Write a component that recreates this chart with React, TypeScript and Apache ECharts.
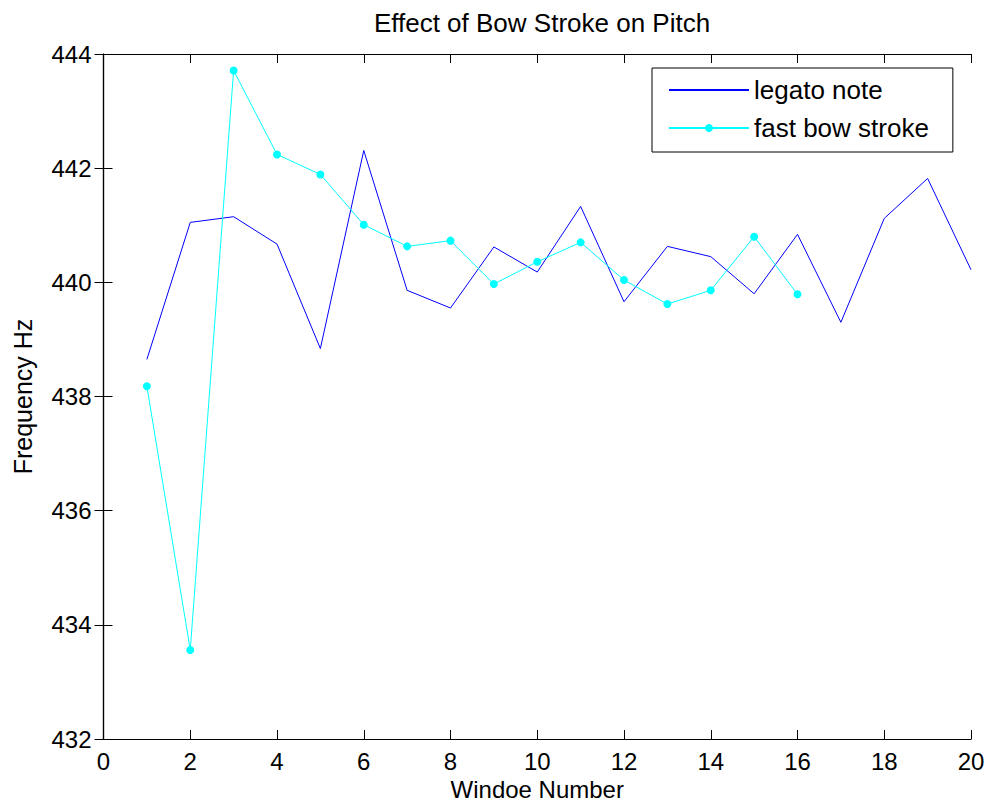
import React, { useEffect, useRef } from "react";
import * as echarts from "echarts";

const windows = [1, 2, 3, 4, 5, 6, 7, 8, 9, 10, 11, 12, 13, 14, 15, 16, 17, 18, 19, 20];
const legatoNote = [438.65, 441.05, 441.15, 440.67, 438.84, 442.31, 439.86, 439.55, 440.62, 440.18, 441.33, 439.66, 440.63, 440.45, 439.8, 440.84, 439.3, 441.12, 441.82, 440.22];
const fastBowStroke = [438.18, 433.56, 443.71, 442.24, 441.89, 441.01, 440.63, 440.73, 439.97, 440.36, 440.7, 440.04, 439.62, 439.86, 440.8, 439.79];

const FONT = "Liberation Sans, Arial, Helvetica, sans-serif";

export default function App() {
  const ref = useRef<HTMLDivElement>(null);
  useEffect(() => {
    document.body.style.margin = "0";
    const chart = echarts.init(ref.current!, null, { renderer: "svg" });
    const tickCommon = {
      show: true,
      inside: true,
      length: 9,
      lineStyle: { color: "#000", width: 1 },
    };
    chart.setOption({
      animation: false,
      backgroundColor: "#fff",
      title: {
        text: "Effect of Bow Stroke on Pitch",
        left: 537,
        top: 5,
        textAlign: "center",
        textStyle: { fontFamily: FONT, fontSize: 26, fontWeight: "normal", color: "#000" },
      },
      legend: {
        orient: "vertical",
        left: 652,
        top: 68,
        padding: [9, 24, 11, 16],
        borderColor: "#000",
        borderWidth: 1,
        backgroundColor: "#fff",
        itemWidth: 80,
        itemHeight: 10,
        itemGap: 12,
        textStyle: { fontFamily: FONT, fontSize: 26, color: "#000", lineHeight: 26 },
        data: [
          { name: "legato note", itemStyle: { opacity: 0 } },
          { name: "fast bow stroke" },
        ],
      },
      grid: {
        left: 103.5,
        right: 17,
        top: 54,
        bottom: 64,
        containLabel: false,
        outerBoundsMode: "none",
      },
      xAxis: [
        {
          type: "value",
          min: 0,
          max: 20,
          interval: 2,
          name: "Windoe Number",
          nameLocation: "middle",
          nameGap: 37,
          nameTextStyle: { fontFamily: FONT, fontSize: 24, color: "#000" },
          axisLine: { show: true, lineStyle: { color: "#000", width: 1.2 } },
          axisTick: tickCommon,
          axisLabel: { fontFamily: FONT, fontSize: 24, color: "#000", margin: 10 },
          splitLine: { show: false },
        },
        {
          type: "value",
          position: "top",
          min: 0,
          max: 20,
          interval: 2,
          axisLine: { show: true, lineStyle: { color: "#000", width: 1.2 } },
          axisTick: tickCommon,
          axisLabel: { show: false },
          splitLine: { show: false },
        },
      ],
      yAxis: [
        {
          type: "value",
          min: 432,
          max: 444,
          interval: 2,
          name: "Frequency Hz",
          nameLocation: "middle",
          nameGap: 68,
          nameTextStyle: { fontFamily: FONT, fontSize: 25, color: "#000" },
          axisLine: { show: true, lineStyle: { color: "#000", width: 1.2 } },
          axisTick: tickCommon,
          axisLabel: { fontFamily: FONT, fontSize: 24, color: "#000", margin: 12 },
          splitLine: { show: false },
        },
        {
          type: "value",
          position: "right",
          min: 432,
          max: 444,
          interval: 2,
          axisLine: { show: true, lineStyle: { color: "#000", width: 1.2 } },
          axisTick: tickCommon,
          axisLabel: { show: false },
          splitLine: { show: false },
        },
      ],
      series: [
        {
          name: "legato note",
          type: "line",
          symbol: "none",
          lineStyle: { color: "#0000ff", width: 1 },
          itemStyle: { color: "#0000ff" },
          data: legatoNote.map((v, i) => [windows[i], v]),
        },
        {
          name: "fast bow stroke",
          type: "line",
          symbol: "circle",
          symbolSize: 8,
          lineStyle: { color: "#00ffff", width: 1 },
          itemStyle: { color: "#00ffff" },
          data: fastBowStroke.map((v, i) => [windows[i], v]),
        },
      ],
    });
    return () => chart.dispose();
  }, []);
  return <div ref={ref} style={{ width: 988, height: 803 }} />;
}
